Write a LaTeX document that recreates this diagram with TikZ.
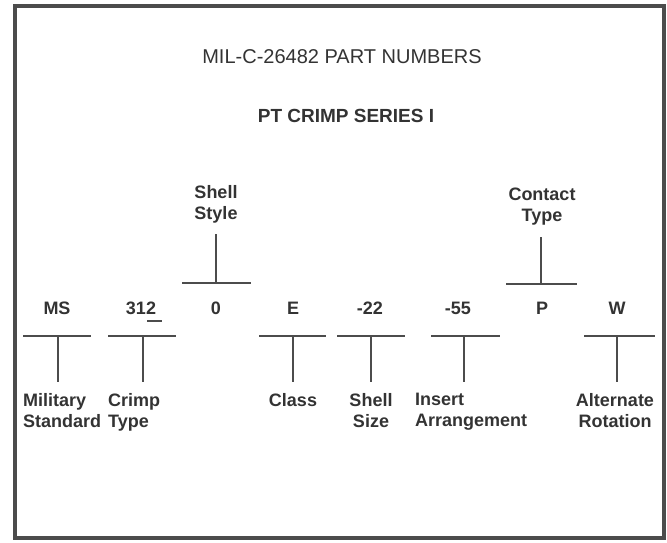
\documentclass[tikz,border=0pt]{standalone}
\usepackage{fontspec}
\setmainfont{Liberation Sans}
\usetikzlibrary{positioning}

\begin{document}
\begin{tikzpicture}[x=1pt, y=-1pt, every node/.style={inner sep=0pt, text=black!80}]
\tikzset{
  code/.style={font=\fontsize{18}{21}\selectfont\bfseries, anchor=base},
  partname/.style={font=\fontsize{18}{21}\selectfont\bfseries, anchor=north, align=center},
  bar/.style={draw=black!70, line width=1.1pt},
  stem/.style={bar, shorten >=11pt}
}
\useasboundingbox (0,0) rectangle (667,542);
\draw[draw=black!70, line width=3.5pt] (15,6) rectangle (664,538);
% headings
\node[font=\fontsize{20}{24}\selectfont, anchor=base] (title) at (342,63) {MIL-C-26482 PART NUMBERS};
\node[font=\fontsize{19}{23}\selectfont\bfseries, anchor=base] (series) at (346,122) {PT CRIMP SERIES I};
% part number row
\node[code] (ms) at (57,314) {MS};
\node[code] (crimp) at (141,314) {312};
\draw[bar] ([xshift=6pt, yshift=-7pt]crimp.base) -- ([xshift=21pt, yshift=-7pt]crimp.base);
\node[code] (style) at (216,314) {0};
\node[code] (class) at (293,314) {E};
\node[code] (size) at (370,314) {-22};
\node[code] (insert) at (458,314) {-55};
\node[code] (contact) at (542,314) {P};
\node[code] (rotation) at (617,314) {W};
% names above
\node[partname] (stylename) at (216,185) {Shell\\Style};
\coordinate (stylebar) at (216,283);
\draw[bar] ([xshift=-34pt]stylebar) -- ([xshift=35pt]stylebar);
\draw[stem] (stylebar) -- (stylebar |- stylename.south);
\node[partname] (contactname) at (542,188) {Contact\\Type};
\coordinate (contactbar) at (541,284);
\draw[bar] ([xshift=-35pt]contactbar) -- ([xshift=36pt]contactbar);
\draw[stem] (contactbar) -- (contactbar |- contactname.south);
% names below
\node[partname, anchor=north west, align=left] (msname) at (23,393) {Military\\Standard};
\coordinate (msbar) at (58,336);
\draw[bar] ([xshift=-35pt]msbar) -- ([xshift=33pt]msbar);
\draw[stem] (msbar) -- (msbar |- msname.north);
\node[partname, anchor=north west, align=left] (crimpname) at (108,393) {Crimp\\Type};
\coordinate (crimpbar) at (143,336);
\draw[bar] ([xshift=-35pt]crimpbar) -- ([xshift=33pt]crimpbar);
\draw[stem] (crimpbar) -- (crimpbar |- crimpname.north);
\node[partname] (classname) at (293,393) {Class};
\coordinate (classbar) at (293,336);
\draw[bar] ([xshift=-34pt]classbar) -- ([xshift=33pt]classbar);
\draw[stem] (classbar) -- (classbar |- classname.north);
\node[partname] (sizename) at (371,393) {Shell\\Size};
\coordinate (sizebar) at (371,336);
\draw[bar] ([xshift=-34pt]sizebar) -- ([xshift=34pt]sizebar);
\draw[stem] (sizebar) -- (sizebar |- sizename.north);
\node[partname, anchor=north west, align=left] (insertname) at (415,393) {Insert\\Arrangement};
\coordinate (insertbar) at (464,336);
\draw[bar] ([xshift=-33pt]insertbar) -- ([xshift=36pt]insertbar);
\draw[stem] (insertbar) -- (insertbar |- insertname.north);
\node[partname] (rotationname) at (615,393) {Alternate\\Rotation};
\coordinate (rotationbar) at (617,336);
\draw[bar] ([xshift=-33pt]rotationbar) -- ([xshift=38pt]rotationbar);
\draw[stem] (rotationbar) -- (rotationbar |- rotationname.north);
\end{tikzpicture}
\end{document}
